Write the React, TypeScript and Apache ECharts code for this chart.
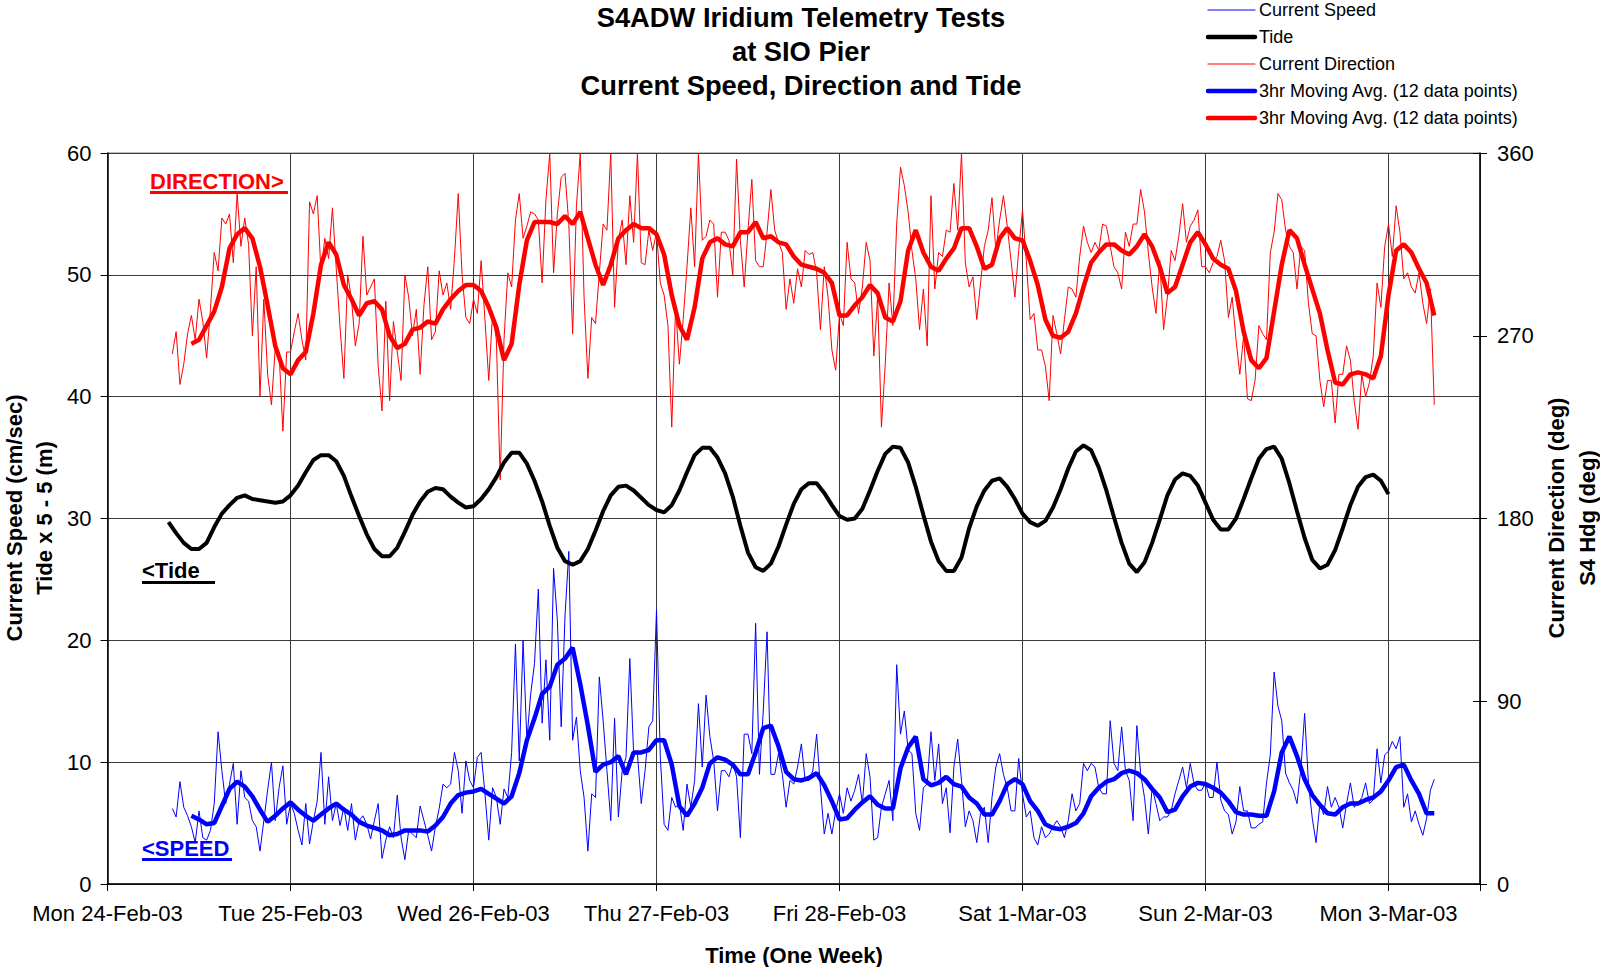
import React, { useEffect, useRef } from 'react';
import * as echarts from 'echarts';

const FONT = '"Liberation Sans", Arial, Helvetica, sans-serif';

const TITLE_LINES = ['S4ADW Iridium Telemetry Tests', 'at SIO Pier', 'Current Speed, Direction and Tide'];
const DAY_LABELS = ['Mon 24-Feb-03', 'Tue 25-Feb-03', 'Wed 26-Feb-03', 'Thu 27-Feb-03', 'Fri 28-Feb-03', 'Sat 1-Mar-03', 'Sun 2-Mar-03', 'Mon 3-Mar-03'];
const SERIES_NAMES = ['Current Speed', 'Tide', 'Current Direction', '3hr Moving Avg. (12 data points)', '3hr Moving Avg. (12 data points) '];
const SERIES_COLORS = ['#0000ff', '#000000', '#ff0000', '#0000ff', '#ff0000'];
const SERIES_WIDTHS = [1, 4, 1, 4.5, 4.5];

// sampling schedule (hours since Mon 24-Feb-03 00:00)
const RAW_START = 8.5;
const RAW_STEP = 0.5;
const MA_START = 11;
const MA_STEP = 1;
const TIDE_START = 8;
const TIDE_STEP = 1;

// Current speed (cm/sec), every 30 min from 08:30 Mon
const speedRaw = [
  6.2, 5.5, 8.4, 6.3, 5.6, 4.7, 3.4,
  6.0, 3.8, 3.6, 4.4, 6.6, 12.5, 9.3, 6.6, 8.2, 9.9, 4.9, 9.3,
  7.1, 6.8, 5.2, 4.7, 2.7, 5.2, 7.7, 10.0, 5.2, 7.9, 9.7, 4.9,
  6.6, 5.8, 4.4, 3.2, 6.6, 3.3, 5.2, 6.8, 10.8, 4.9, 8.8, 5.2,
  6.6, 4.8, 6.3, 4.4, 6.6, 3.6, 5.2, 5.6, 4.9, 3.7, 5.2, 6.6,
  2.1, 3.6, 4.7, 3.8, 7.3, 3.8, 2.0, 4.4, 4.1, 3.8, 6.4, 5.2,
  4.0, 2.7, 4.7, 6.2, 8.2, 7.9, 8.2, 10.8, 9.3, 5.8, 10.1, 8.5,
  7.9, 10.4, 10.8, 7.4, 3.6, 7.9, 7.1,
  4.9, 7.8, 7.1, 10.8,
  19.7, 10.1, 20.0, 11.8, 15.6, 18.1, 24.2, 13.2, 18.4, 11.8, 25.9, 21.6,
  12.9, 22.0, 27.3, 11.8, 13.7, 9.3, 7.1, 2.7, 7.4, 7.1, 17.0, 13.4,
  9.3, 5.2, 13.6, 5.5, 9.3, 10.4, 18.5, 10.7, 10.7, 6.6, 9.3, 12.9,
  13.4, 22.5, 10.4, 4.9, 4.4, 7.1, 6.3, 6.6, 4.4, 8.2, 6.3, 8.5,
  14.8, 9.6, 15.5, 12.1, 10.1, 6.0, 9.3, 9.3, 8.8, 9.9, 8.8, 3.8,
  12.3, 12.3, 10.7, 21.4, 9.0, 14.2, 20.7, 9.0, 9.0, 10.7, 9.0, 6.3,
  8.5, 8.2, 9.6, 11.5, 8.5, 8.5, 9.3, 12.3, 7.9, 4.1, 5.8, 4.1,
  6.0, 7.4, 5.8, 7.9, 6.8, 7.7, 9.0, 6.6, 10.7, 8.8, 3.6, 3.8, 6.3, 7.4,
  8.5, 5.2, 18.0, 12.3, 14.2, 11.0, 10.7, 5.8, 4.4, 7.9, 8.2, 12.5,
  8.5, 11.5, 6.6, 7.9, 4.2, 9.6, 11.9, 8.5, 4.7, 6.0, 5.2, 3.4,
  5.8, 6.3, 3.4, 7.1, 9.6, 10.7, 9.0, 7.9, 6.0, 6.0, 10.3, 7.4,
  5.5, 6.0, 3.8, 3.2, 4.7, 3.8, 4.1, 4.7, 5.2, 4.7, 3.8, 5.2,
  7.4, 6.0, 6.6, 9.9, 9.3, 9.9, 9.6, 7.9, 7.4, 7.4, 13.4, 9.9,
  9.3, 12.9, 9.3, 8.5, 5.2, 13.0, 9.0, 7.1, 4.1, 7.9, 6.6, 5.2,
  5.5, 5.5, 6.0, 7.4, 8.5, 9.6, 7.9, 9.9, 8.2, 7.7, 7.7,
  8.3, 7.1, 7.1, 10.0, 6.9, 6.0, 5.7, 4.1, 5.1, 8.0, 6.0, 6.0,
  4.6, 4.6, 4.9, 5.1, 8.3, 10.6, 17.4, 14.6, 13.4, 9.1, 8.3, 7.7,
  6.6, 9.4, 14.0, 8.3, 5.4, 3.4, 6.6, 5.7, 8.0, 6.3, 7.1, 6.3,
  4.6, 6.6, 8.3, 6.3, 6.6, 7.1, 8.3, 6.6, 6.9, 11.1, 8.3, 10.6,
  10.9, 11.7, 11.1, 12.1, 6.3, 7.4, 5.1, 6.0, 4.9, 4.0, 5.4, 7.7,
  8.6,
];

// Current direction (deg), every 30 min from 08:30 Mon
const directionRaw = [
  261, 272, 246, 256, 271, 280, 268,
  288, 277, 259, 283, 311, 302, 328, 325, 330, 306, 340, 314,
  328, 315, 270, 304, 240, 288, 251, 236, 264, 262, 223, 262,
  262, 272, 281, 268, 258, 336, 330, 339, 301, 318, 308, 333,
  303, 274, 249, 300, 288, 265, 276, 319, 290, 294, 298, 255,
  233, 287, 238, 277, 262, 248, 300, 289, 270, 283, 251, 285,
  304, 268, 272, 302, 290, 296, 283, 308, 340, 300, 279, 276,
  288, 281, 307, 278, 248, 281, 268, 199, 268, 301, 294, 327,
  340, 318, 324, 331, 330, 327, 296, 337, 360, 301, 330, 348,
  350, 325, 271, 334, 360, 289, 249, 279, 276, 301, 325, 322,
  360, 284, 317, 327, 305, 339, 316, 360, 306, 305, 322, 312,
  321, 296, 290, 275, 225, 284, 256, 278, 304, 333, 304, 360,
  317, 319, 327, 325, 289, 321, 321, 317, 300, 357, 317, 294,
  322, 347, 307, 304, 304, 321, 342, 322, 316, 311, 283, 298,
  286, 303, 294, 312, 310, 311, 301, 273, 304, 289, 263, 253,
  281, 275, 316, 298, 296, 281, 294, 316,
  307, 260, 289, 225, 256, 296, 275, 325, 353, 344, 331, 312,
  298, 273, 293, 265, 339, 293, 311, 309, 322, 321, 345, 322,
  360, 306, 294, 299, 278, 296, 314, 322, 338, 312, 327, 339,
  324, 307, 289, 312, 332, 307, 278, 281, 263, 263, 255, 238,
  280, 271, 261, 278, 294, 293, 289, 309, 324, 316, 311, 316,
  312, 325, 324, 314, 304, 301, 293, 321, 314, 325, 325, 342,
  331, 311, 294, 281, 307, 273, 289, 312, 307, 319, 335, 316,
  324, 327, 332, 304,
  304, 301, 306, 309, 317, 307, 279, 289, 268, 251, 270, 239,
  238, 248, 275, 271, 268, 311, 321, 340, 337, 322, 314, 311,
  293, 314, 312, 286, 271, 270, 248, 235, 248, 248, 227, 251,
  251, 265, 258, 238, 224, 251, 240, 247, 260, 296, 284, 314,
  325, 309, 334, 321, 298, 301, 294, 291, 301, 286, 276, 293,
  236,
];

// Tide x 5 - 5 (m), hourly from 08:00 Mon
const tide = [
  29.7, 28.8, 28.0, 27.5, 27.5, 28.0, 29.3, 30.4, 31.1, 31.7,
  31.9, 31.6, 31.5, 31.4, 31.3, 31.4, 31.9, 32.7, 33.8, 34.8,
  35.2, 35.2, 34.7, 33.5, 31.8, 30.2, 28.7, 27.5, 26.9, 26.9,
  27.6, 28.9, 30.3, 31.4, 32.2, 32.5, 32.4, 31.8, 31.3, 30.9,
  31.0, 31.6, 32.4, 33.4, 34.6, 35.4, 35.4, 34.5, 33.1, 31.4,
  29.4, 27.6, 26.5, 26.2, 26.5, 27.5, 29.0, 30.6, 31.9, 32.6,
  32.7, 32.3, 31.7, 31.1, 30.7, 30.5, 31.1, 32.3, 33.8, 35.2,
  35.8, 35.8, 35.0, 33.7, 31.8, 29.4, 27.2, 26.0, 25.7, 26.3,
  27.7, 29.5, 31.2, 32.4, 32.9, 32.9, 32.1, 31.1, 30.2, 29.9,
  30.0, 30.8, 32.3, 33.9, 35.3, 35.9, 35.8, 34.6, 32.6, 30.3,
  28.1, 26.5, 25.7, 25.7, 26.8, 29.2, 31.0, 32.3, 33.1, 33.3,
  32.6, 31.6, 30.4, 29.7, 29.4, 29.8, 30.9, 32.4, 34.1, 35.5,
  36.0, 35.6, 34.2, 32.3, 30.1, 28.0, 26.3, 25.6, 26.4, 28.0,
  29.9, 31.9, 33.2, 33.7, 33.5, 32.7, 31.3, 29.9, 29.1, 29.1,
  30.0, 31.6, 33.3, 34.9, 35.7, 35.9, 34.9, 32.9, 30.6, 28.4,
  26.6, 25.9, 26.2, 27.4, 29.2, 31.1, 32.6, 33.4, 33.6, 33.1,
  32.0,
];

// 3hr moving average of speed (cm/sec), hourly from 11:00 Mon
const speedMA = [
  5.6, 5.3, 4.9, 5.0, 6.4, 7.8, 8.4, 8.0, 7.2, 6.1,
  5.1, 5.6, 6.2, 6.7, 6.1, 5.6, 5.2, 5.7, 6.2, 6.6,
  6.1, 5.7, 5.1, 4.8, 4.6, 4.4, 4.0, 4.1, 4.4, 4.4,
  4.4, 4.3, 4.8, 5.5, 6.6, 7.3, 7.5, 7.6, 7.8, 7.4,
  7.0, 6.6, 7.2, 9.1, 11.8, 13.6, 15.6, 16.2, 18.0, 18.5,
  19.4, 16.4, 13.0, 9.2, 9.8, 10.0, 10.5, 9.0, 10.8, 10.8,
  11.0, 11.8, 11.8, 9.8, 6.4, 5.6, 6.6, 7.9, 9.9, 10.4,
  10.2, 9.8, 9.0, 9.0, 10.8, 12.8, 13.0, 11.3, 9.2, 8.6,
  8.5, 8.7, 9.1, 8.1, 6.8, 5.3, 5.4, 6.1, 6.7, 7.2,
  6.5, 6.2, 6.2, 9.5, 11.2, 12.1, 8.6, 8.1, 8.3, 8.8,
  8.2, 8.0, 7.1, 6.6, 5.7, 5.7, 6.8, 8.2, 8.6, 8.2,
  6.8, 6.0, 4.9, 4.6, 4.5, 4.7, 5.0, 5.8, 7.2, 7.9,
  8.4, 8.6, 9.1, 9.3, 9.1, 8.6, 7.8, 7.1, 5.9, 6.1,
  7.2, 8.0, 8.3, 8.2, 7.9, 7.5, 6.8, 5.9, 5.7, 5.7,
  5.6, 5.6, 7.6, 10.8, 12.1, 10.5, 8.6, 7.3, 6.5, 5.8,
  5.7, 6.3, 6.6, 6.6, 6.9, 7.1, 7.6, 8.5, 9.6, 9.8,
  8.5, 7.4, 5.8, 5.8,
];

// 3hr moving average of direction (deg), hourly from 11:00 Mon
const directionMA = [
  266, 268, 275, 282, 294, 313, 320, 323, 318, 304,
  285, 265, 254, 251, 258, 262, 281, 305, 316, 310,
  295, 288, 280, 286, 287, 283, 270, 264, 266, 273,
  274, 277, 276, 283, 288, 292, 295, 295, 292, 284,
  274, 258, 266, 295, 317, 326, 326, 326, 325, 329,
  325, 331, 318, 305, 295, 305, 318, 322, 325, 323,
  323, 320, 310, 290, 275, 268, 284, 308, 316, 318,
  315, 314, 321, 321, 326, 318, 319, 316, 315, 309,
  305, 304, 303, 301, 296, 280, 280, 285, 289, 295,
  291, 279, 277, 287, 312, 322, 311, 304, 302, 308,
  313, 323, 323, 314, 303, 305, 318, 323, 318, 317,
  307, 295, 278, 270, 269, 272, 281, 294, 306, 311,
  315, 315, 312, 310, 314, 320, 314, 304, 291, 294,
  305, 316, 321, 315, 308, 305, 303, 292, 272, 258,
  254, 259, 282, 305, 322, 318, 305, 293, 281, 263,
  247, 246, 251, 252, 251, 249, 260, 290, 312, 315,
  311, 303, 296, 280,
];

function toPairs(values: number[], start: number, step: number) {
  return values.map((v, i) => [start + i * step, v]);
}

function rotatedText(x: number, y: number, text: string, size: number) {
  return {
    type: 'text',
    x,
    y,
    rotation: Math.PI / 2,
    style: {
      text,
      x: 0,
      y: 0,
      textAlign: 'center',
      textVerticalAlign: 'middle',
      font: `bold ${size}px ${FONT}`,
      fill: '#000',
    },
  };
}

function plainText(x: number, y: number, text: string, size: number, color: string, align = 'left', weight = 'bold') {
  return {
    type: 'text',
    x,
    y,
    style: {
      text,
      x: 0,
      y: 0,
      textAlign: align,
      textVerticalAlign: 'middle',
      font: `${weight} ${size}px ${FONT}`,
      fill: color,
    },
  };
}

function underline(x: number, y: number, w: number, color: string) {
  return { type: 'rect', shape: { x, y, width: w, height: 3 }, style: { fill: color } };
}

// legend drawn as graphic: icon line + label per series
const LEGEND_X = 1208;
const LEGEND_ICON_W = 47;
const LEGEND_Y = [10, 37, 64, 91, 118];

function legendGraphics() {
  const out: any[] = [];
  SERIES_NAMES.forEach((name, i) => {
    const y = LEGEND_Y[i];
    out.push({
      type: 'line',
      shape: { x1: LEGEND_X, y1: y, x2: LEGEND_X + LEGEND_ICON_W, y2: y },
      style: { stroke: SERIES_COLORS[i], lineWidth: SERIES_WIDTHS[i] >= 4 ? 4.5 : 1.2, lineCap: 'round' },
    });
    out.push(plainText(LEGEND_X + LEGEND_ICON_W + 4, y, name.trim(), 18, '#000', 'left', 'normal'));
  });
  return out;
}

function buildOption() {
  const lineBase = { type: 'line', symbol: 'none', showSymbol: false, clip: true };
  const axisFont = { fontSize: 22, color: '#000', fontFamily: FONT };
  return {
    animation: false,
    backgroundColor: '#ffffff',
    textStyle: { fontFamily: FONT },
    grid: {
      left: 107.5,
      right: 120,
      top: 153,
      bottom: 83,
      show: true,
      borderColor: '#808080',
      borderWidth: 1,
      backgroundColor: 'transparent',
      containLabel: false,
      outerBoundsMode: 'none',
    },
    xAxis: {
      type: 'value',
      min: 0,
      max: 180,
      interval: 24,
      axisLine: { show: true, lineStyle: { color: '#000', width: 1.5 } },
      axisTick: { show: true, length: 7, lineStyle: { color: '#000' } },
      axisLabel: {
        margin: 18,
        ...axisFont,
        formatter: (v: number) => {
          const i = v / 24;
          return Number.isInteger(i) && i < DAY_LABELS.length ? DAY_LABELS[i] : '';
        },
      },
      splitLine: { show: true, lineStyle: { color: '#3a3a3a', width: 1 } },
    },
    yAxis: [
      {
        type: 'value',
        position: 'left',
        min: 0,
        max: 60,
        interval: 10,
        axisLine: { show: true, lineStyle: { color: '#000', width: 1.5 } },
        axisTick: { show: true, length: 7, lineStyle: { color: '#000' } },
        axisLabel: { margin: 16, ...axisFont },
        splitLine: { show: true, lineStyle: { color: '#3a3a3a', width: 1 } },
      },
      {
        type: 'value',
        position: 'right',
        min: 0,
        max: 360,
        interval: 90,
        axisLine: { show: true, lineStyle: { color: '#000', width: 1.5 } },
        axisTick: { show: true, length: 7, lineStyle: { color: '#000' } },
        axisLabel: { margin: 17, ...axisFont },
        splitLine: { show: false },
      },
      {
        type: 'value',
        position: 'right',
        offset: 0,
        min: 0,
        max: 360,
        interval: 90,
        axisLine: { show: false },
        axisTick: { show: true, inside: true, length: 7, lineStyle: { color: '#000' } },
        axisLabel: { show: false },
        splitLine: { show: false },
      },
    ],
    series: [
      {
        ...lineBase,
        name: SERIES_NAMES[0],
        yAxisIndex: 0,
        z: 2,
        data: toPairs(speedRaw, RAW_START, RAW_STEP),
        lineStyle: { color: SERIES_COLORS[0], width: SERIES_WIDTHS[0] },
        itemStyle: { color: SERIES_COLORS[0] },
      },
      {
        ...lineBase,
        name: SERIES_NAMES[1],
        yAxisIndex: 0,
        z: 4,
        data: toPairs(tide, TIDE_START, TIDE_STEP),
        lineStyle: { color: SERIES_COLORS[1], width: SERIES_WIDTHS[1] },
        itemStyle: { color: SERIES_COLORS[1] },
      },
      {
        ...lineBase,
        name: SERIES_NAMES[2],
        yAxisIndex: 1,
        z: 2,
        data: toPairs(directionRaw, RAW_START, RAW_STEP),
        lineStyle: { color: SERIES_COLORS[2], width: SERIES_WIDTHS[2] },
        itemStyle: { color: SERIES_COLORS[2] },
      },
      {
        ...lineBase,
        name: SERIES_NAMES[3],
        yAxisIndex: 0,
        z: 5,
        data: toPairs(speedMA, MA_START, MA_STEP),
        lineStyle: { color: SERIES_COLORS[3], width: SERIES_WIDTHS[3] },
        itemStyle: { color: SERIES_COLORS[3] },
      },
      {
        ...lineBase,
        name: SERIES_NAMES[4],
        yAxisIndex: 1,
        z: 5,
        data: toPairs(directionMA, MA_START, MA_STEP),
        lineStyle: { color: SERIES_COLORS[4], width: SERIES_WIDTHS[4] },
        itemStyle: { color: SERIES_COLORS[4] },
      },
    ],
    graphic: [
      plainText(801, 17, TITLE_LINES[0], 27.3, '#000', 'center'),
      plainText(801, 51, TITLE_LINES[1], 27.3, '#000', 'center'),
      plainText(801, 85, TITLE_LINES[2], 27.3, '#000', 'center'),
      ...legendGraphics(),
      rotatedText(14, 518, 'Current Speed (cm/sec)', 22),
      rotatedText(44, 518, 'Tide x 5 - 5 (m)', 22),
      rotatedText(1556, 518, 'Current Direction (deg)', 22),
      rotatedText(1587, 518, 'S4 Hdg (deg)', 22),
      plainText(794, 955, 'Time (One Week)', 22, '#000', 'center'),
      plainText(150, 181, 'DIRECTION>', 22, '#ff0000'),
      underline(150, 191, 138, '#ff0000'),
      plainText(142, 570, '<Tide', 22, '#000'),
      underline(142, 581, 73, '#000'),
      plainText(142, 848, '<SPEED', 22, '#0000ff'),
      underline(142, 858, 90, '#0000ff'),
    ],
  };
}

export default function App() {
  const ref = useRef<HTMLDivElement>(null);
  useEffect(() => {
    if (!ref.current) return;
    const chart = echarts.init(ref.current, null, { renderer: 'svg' });
    chart.setOption(buildOption() as any);
    return () => chart.dispose();
  }, []);
  return (
    <div
      ref={ref}
      style={{ position: 'fixed', left: 0, top: 0, width: 1600, height: 967, background: '#ffffff' }}
    />
  );
}
